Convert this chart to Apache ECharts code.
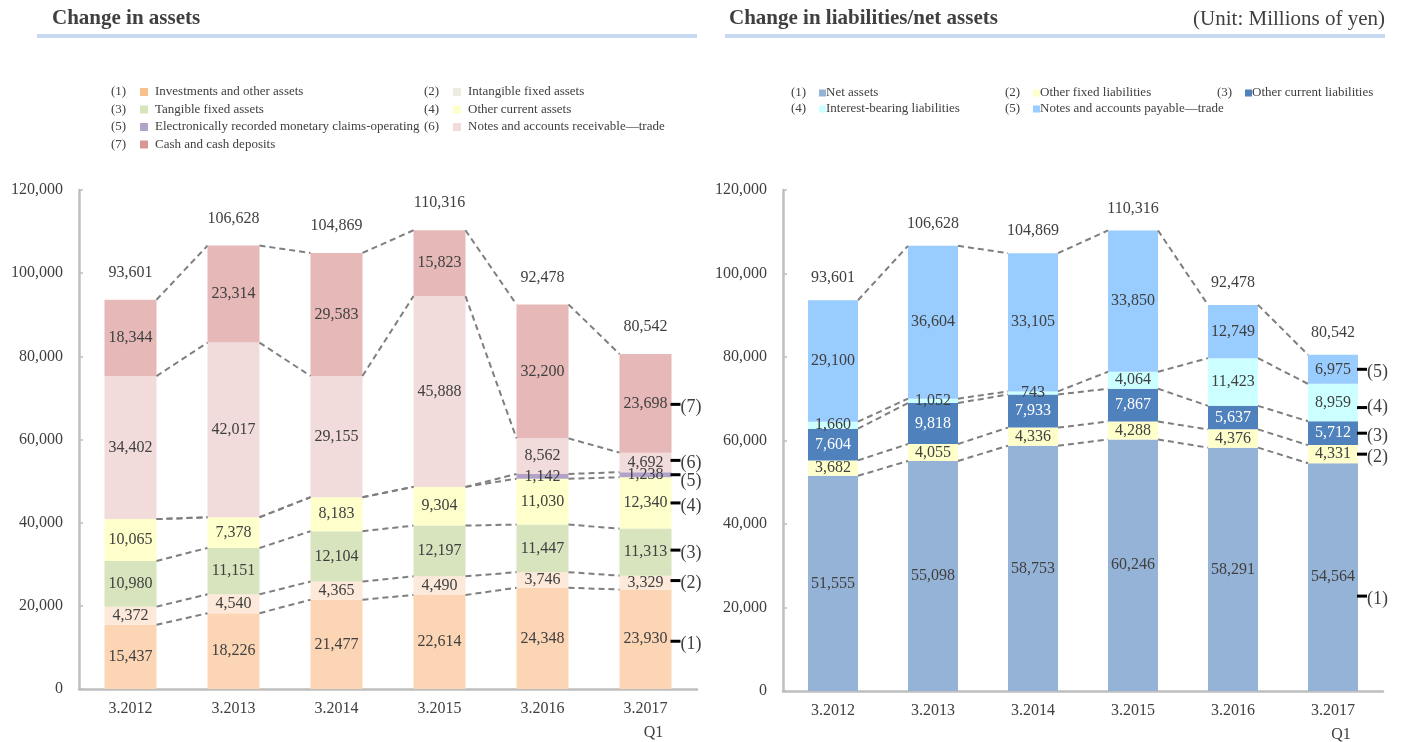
<!DOCTYPE html>
<html><head><meta charset="utf-8">
<script src="https://cdn.jsdelivr.net/npm/echarts@6/dist/echarts.min.js"></script>
<style>html,body{margin:0;padding:0;background:#fff}#c{width:1407px;height:742px}</style>
</head><body><div id="c"></div>
<script>
// ---------- DATA ----------
const categories = ['3.2012', '3.2013', '3.2014', '3.2015', '3.2016', '3.2017'];
const categorySub = ['', '', '', '', '', 'Q1'];

// Assets (bottom to top)
const assetNames = [
  'Investments and other assets',
  'Intangible fixed assets',
  'Tangible fixed assets',
  'Other current assets',
  'Electronically recorded monetary claims-operating',
  'Notes and accounts receivable\u2014trade',
  'Cash and cash deposits'
];
const assetInvestments = [15437, 18226, 21477, 22614, 24348, 23930];
const assetIntangible  = [4372, 4540, 4365, 4490, 3746, 3329];
const assetTangible    = [10980, 11151, 12104, 12197, 11447, 11313];
const assetOtherCur    = [10065, 7378, 8183, 9304, 11030, 12340];
const assetElectronic  = [0, 0, 0, 0, 1142, 1238];
const assetReceivable  = [34402, 42017, 29155, 45888, 8562, 4692];
const assetCash        = [18344, 23314, 29583, 15823, 32200, 23698];
const assetTotals      = [93601, 106628, 104869, 110316, 92478, 80542];

// Liabilities / net assets (bottom to top)
const liabNames = [
  'Net assets',
  'Other fixed liabilities',
  'Other current liabilities',
  'Interest-bearing liabilities',
  'Notes and accounts payable\u2014trade'
];
const liabNetAssets   = [51555, 55098, 58753, 60246, 58291, 54564];
const liabOtherFixed  = [3682, 4055, 4336, 4288, 4376, 4331];
const liabOtherCur    = [7604, 9818, 7933, 7867, 5637, 5712];
const liabInterest    = [1660, 1052, 743, 4064, 11423, 8959];
const liabPayable     = [29100, 36604, 33105, 33850, 12749, 6975];
const liabTotals      = [93601, 106628, 104869, 110316, 92478, 80542];

const yMin = 0, yMax = 120000, yStep = 20000;

// ---------- STYLE ----------
const FONT = "'Liberation Serif','Times New Roman',serif";
const TXT = '#404040';
const assetColors = ['#fcd5b5', '#fde9d9', '#d7e4bd', '#ffffcc', '#b3a2c7', '#f2dcdb', '#e6b9b8'];
const assetLegendColors = ['#fac090', '#eeece1', '#d7e4bd', '#ffffcc', '#b3a2c7', '#f2dcdb', '#d99694'];
const liabColors = ['#95b3d7', '#ffffcc', '#4f81bd', '#ccffff', '#99ccff'];
const liabLabelColors = [TXT, TXT, '#ffffff', TXT, TXT];
const BW_L = 52, BW_R = 50;
// marker offsets (px) for the "—(n)" annotations at the last bar
const assetMarkOff = [2, -2, -2, 0, 0, -2, 1];
const assetMarkTextOff = [3, 3, 3, 3, 7, 3, 3];
const liabMarkOff = [19, 0, 0, 5, 0];
const liabMarkTextOff = [3, 3, 3, 0, 3];

const assetSeriesData = [assetInvestments, assetIntangible, assetTangible, assetOtherCur, assetElectronic, assetReceivable, assetCash];
const liabSeriesData = [liabNetAssets, liabOtherFixed, liabOtherCur, liabInterest, liabPayable];

const fmt = v => Number(v).toLocaleString('en-US');

function cumulative(stack) {
  const res = [];
  let acc = categories.map(() => 0);
  stack.forEach(arr => { acc = acc.map((a, i) => a + arr[i]); res.push(acc.slice()); });
  return res;
}

function barSeries(stackData, colors, labelColors, gi, bw, stackName) {
  return stackData.map((arr, k) => ({
    type: 'bar', stack: stackName, xAxisIndex: gi, yAxisIndex: gi,
    barWidth: bw, data: arr,
    itemStyle: { color: colors[k] },
    label: {
      show: true, position: 'inside', fontFamily: FONT, fontSize: 16,
      color: labelColors[k], formatter: p => (p.value ? fmt(p.value) : '')
    },
    emphasis: { disabled: true }, silent: true, z: 2
  }));
}

function connectorSeries(stackData, gi, bw) {
  const cum = cumulative(stackData);
  const data = [];
  cum.forEach(c => { for (let i = 0; i < categories.length - 1; i++) data.push([i, c[i], c[i + 1]]); });
  return {
    type: 'custom', xAxisIndex: gi, yAxisIndex: gi, silent: true, z: 5,
    data: data, encode: { x: 0, y: [1, 2] },
    renderItem: (params, api) => {
      const i = api.value(0);
      const p1 = api.coord([i, api.value(1)]);
      const p2 = api.coord([i + 1, api.value(2)]);
      return {
        type: 'line',
        shape: { x1: p1[0] + bw / 2, y1: p1[1], x2: p2[0] - bw / 2, y2: p2[1] },
        style: { stroke: '#7f7f7f', lineWidth: 2, lineDash: [6, 4], fill: null }
      };
    }
  };
}

function totalSeries(totals, gi, dist) {
  return {
    type: 'custom', xAxisIndex: gi, yAxisIndex: gi, silent: true, z: 6,
    data: totals.map((t, i) => [i, t]), encode: { x: 0, y: 1 },
    renderItem: (params, api) => {
      const p = api.coord([api.value(0), api.value(1)]);
      return {
        type: 'text', x: p[0], y: p[1] - dist,
        style: { text: fmt(api.value(1)), fontFamily: FONT, fontSize: 16, fill: TXT, align: 'center', verticalAlign: 'middle' }
      };
    }
  };
}

function markerSeries(stackData, gi, bw, off, textOff) {
  const last = categories.length - 1;
  const cum = cumulative(stackData);
  const data = stackData.map((arr, k) => [last, cum[k][last] - arr[last] / 2, k]);
  return {
    type: 'custom', xAxisIndex: gi, yAxisIndex: gi, silent: true, z: 6,
    data: data, encode: { x: 0, y: 1 },
    renderItem: (params, api) => {
      const k = api.value(2);
      const p = api.coord([api.value(0), api.value(1)]);
      const x0 = p[0] + bw / 2 - 1, y0 = p[1] + off[k];
      return {
        type: 'group', children: [
          { type: 'rect', shape: { x: x0, y: y0 - 1.5, width: 10, height: 3 }, style: { fill: '#000' } },
          { type: 'text', x: x0 + 10, y: y0 + textOff[k],
            style: { text: '(' + (k + 1) + ')', fontFamily: FONT, fontSize: 18, fill: TXT, align: 'left', verticalAlign: 'middle' } }
        ]
      };
    }
  };
}

function xAxis(gi) {
  return {
    type: 'category', gridIndex: gi, data: categories,
    axisLine: { lineStyle: { color: '#bfbfbf', width: 2.5 } },
    axisTick: { inside: true, length: 5, lineStyle: { color: '#bfbfbf', width: 1.5 } },
    axisLabel: {
      fontFamily: FONT, fontSize: 16, color: TXT, margin: 8, lineHeight: 24,
      formatter: (v, i) => categorySub[i] ? v + '\n    ' + categorySub[i] : v
    },
    splitLine: { show: false }
  };
}
function yAxis(gi) {
  return {
    type: 'value', gridIndex: gi, min: yMin, max: yMax, interval: yStep,
    axisLine: { show: true, lineStyle: { color: '#bfbfbf', width: 2.5 } },
    axisTick: { show: true, inside: true, length: 4, lineStyle: { color: '#bfbfbf', width: 1.5 } },
    axisLabel: { fontFamily: FONT, fontSize: 16, color: TXT, margin: 16, formatter: v => fmt(v) },
    splitLine: { show: false }
  };
}

// Legends & headers as graphic elements
const graphics = [];
function header(x, lineX, text) {
  graphics.push({ type: 'rect', shape: { x: lineX, y: 34, width: 660, height: 4 }, style: { fill: '#c6d9f1' }, silent: true });
  graphics.push({ type: 'text', x: x, y: 19, style: { text: text, fontFamily: FONT, fontSize: 21, fontWeight: 'bold', fill: TXT, verticalAlign: 'middle' }, silent: true });
}
header(52, 37, 'Change in assets');
header(729, 725, 'Change in liabilities/net assets');
graphics.push({ type: 'text', x: 1385, y: 19, style: { text: '(Unit: Millions of yen)', fontFamily: FONT, fontSize: 21, fill: TXT, align: 'right', verticalAlign: 'middle' }, silent: true });

function legend(names, colors, cols, rows, sqOff, sqSize, txtOff) {
  names.forEach((n, k) => {
    const c = k % cols.length, r = Math.floor(k / cols.length);
    const x = cols[c], y = rows[r];
    graphics.push({ type: 'text', x: x, y: y, style: { text: '(' + (k + 1) + ')', fontFamily: FONT, fontSize: 13, fill: TXT, verticalAlign: 'middle' }, silent: true });
    graphics.push({ type: 'rect', shape: { x: x + sqOff, y: y - sqSize / 2, width: sqSize, height: sqSize }, style: { fill: colors[k] }, silent: true });
    graphics.push({ type: 'text', x: x + txtOff, y: y, style: { text: n, fontFamily: FONT, fontSize: 13, fill: TXT, verticalAlign: 'middle' }, silent: true });
  });
}
legend(assetNames, assetLegendColors, [111, 424], [92, 109.5, 127, 144.5], 29, 8, 44);
legend(liabNames, liabColors, [791, 1005, 1217], [93, 109], 28, 7, 35);

const option = {
  animation: false,
  backgroundColor: '#ffffff',
  textStyle: { fontFamily: FONT },
  grid: [
    { left: 79, right: 710, top: 190, bottom: 53, outerBoundsMode: 'none', containLabel: false },
    { left: 783, right: 24, top: 190, bottom: 51, outerBoundsMode: 'none', containLabel: false }
  ],
  xAxis: [xAxis(0), xAxis(1)],
  yAxis: [yAxis(0), yAxis(1)],
  graphic: graphics,
  series: [].concat(
    barSeries(assetSeriesData, assetColors, assetColors.map(() => TXT), 0, BW_L, 'assets'),
    barSeries(liabSeriesData, liabColors, liabLabelColors, 1, BW_R, 'liab'),
    [connectorSeries(assetSeriesData, 0, BW_L), connectorSeries(liabSeriesData, 1, BW_R),
     totalSeries(assetTotals, 0, 27), totalSeries(liabTotals, 1, 22),
     markerSeries(assetSeriesData, 0, BW_L, assetMarkOff, assetMarkTextOff),
     markerSeries(liabSeriesData, 1, BW_R, liabMarkOff, liabMarkTextOff)]
  )
};
echarts.init(document.getElementById('c'), null, { renderer: 'canvas' }).setOption(option);
</script>
</body></html>
